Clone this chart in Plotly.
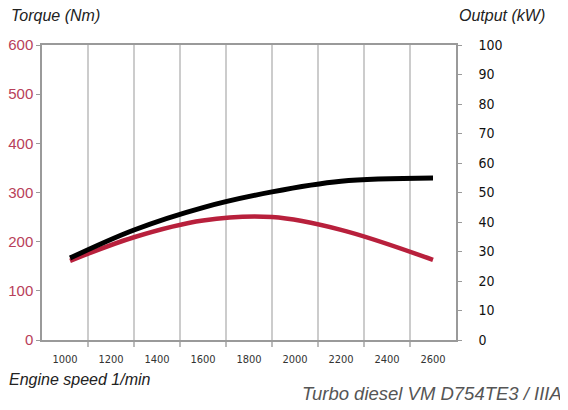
import plotly.graph_objects as go

# ---- data ----
speed = [1022, 1300, 1600, 1900, 2200, 2600]
torque_nm = [161, 209, 243, 250, 224, 163]
output_kw = [27.8, 37.3, 44.9, 50.2, 53.8, 54.9]

x_ticks = [1000, 1200, 1400, 1600, 1800, 2000, 2200, 2400, 2600]
x_grid = [1100, 1300, 1500, 1700, 1900, 2100, 2300, 2500]
left_ticks = [0, 100, 200, 300, 400, 500, 600]
right_ticks = [0, 10, 20, 30, 40, 50, 60, 70, 80, 90, 100]

# page body has an 8px default margin; work in figure coordinates
OFF = 8
W, H = 568 - OFF, 410 - OFF
L, R, T, B = 42 - OFF, 456 - OFF, 45 - OFF, 340 - OFF

RED = "#b8203c"
NARROW = "Liberation Sans Narrow, Arial Narrow, DejaVu Sans Condensed, sans-serif"
SANS = "Liberation Sans, Arial, sans-serif"

fig = go.Figure()
fig.add_trace(go.Scatter(x=speed, y=output_kw, yaxis="y2", mode="lines",
                         line=dict(color="#000000", width=5, shape="spline", smoothing=1),
                         showlegend=False, hoverinfo="skip"))
fig.add_trace(go.Scatter(x=speed, y=torque_nm, mode="lines",
                         line=dict(color=RED, width=4.5, shape="spline", smoothing=1),
                         showlegend=False, hoverinfo="skip"))

def px(xs):
    return (xs - OFF - L) / (R - L)

def py(ys):
    return (B - (ys - OFF)) / (B - T)

fig.update_layout(
    width=W, height=H,
    margin=dict(l=L, r=W - R, t=T, b=H - B, pad=0, autoexpand=False),
    paper_bgcolor="white", plot_bgcolor="white",
    xaxis=dict(range=[900, 2700], tickmode="array", tickvals=x_ticks,
               ticktext=[str(v) for v in x_ticks], automargin=False,
               showgrid=False, zeroline=False,
               showline=True, linecolor="#9a9a9a", linewidth=1.5, mirror=True,
               ticks="outside", ticklen=0, tickcolor="#9a9a9a",
               ticklabelstandoff=8,
               tickfont=dict(family=NARROW, size=11, color="#333333"),
               minor=dict(tickmode="array", tickvals=x_grid, showgrid=True,
                          gridcolor="#cccccc", gridwidth=2,
                          ticks="outside", ticklen=5, tickcolor="#bbbbbb",
                          tickwidth=2)),
    yaxis=dict(range=[0, 600], tickmode="array", tickvals=left_ticks,
               automargin=False,
               showgrid=False, zeroline=False,
               showline=True, linecolor="#9a9a9a", linewidth=1.5,
               ticks="outside", ticklen=4, tickcolor="#9a9a9a",
               tickfont=dict(family=SANS, size=15, color="#b8405a")),
    yaxis2=dict(range=[0, 100], tickmode="array", tickvals=right_ticks,
                overlaying="y", side="right", automargin=False,
                showgrid=False, zeroline=False,
                showline=True, linecolor="#9a9a9a", linewidth=1.5,
                ticks="outside", ticklen=4, tickcolor="#9a9a9a",
                ticklabelstandoff=14,
                tickfont=dict(family=NARROW, size=14, color="#111111")),
    annotations=[
        dict(text="<i>Torque (Nm)</i>", xref="paper", yref="paper",
             x=px(9), y=py(15), xanchor="left", yanchor="middle",
             showarrow=False, font=dict(family=SANS, size=16, color="#222222")),
        dict(text="<i>Output (kW)</i>", xref="paper", yref="paper",
             x=px(547), y=py(15), xanchor="right", yanchor="middle",
             showarrow=False, font=dict(family=SANS, size=16, color="#222222")),
        dict(text="<i>Engine speed 1/min</i>", xref="paper", yref="paper",
             x=px(7), y=py(379), xanchor="left", yanchor="middle",
             showarrow=False, font=dict(family=SANS, size=16, color="#222222")),
        dict(text="<i>Turbo diesel VM D754TE3 / IIIA</i>", xref="paper", yref="paper",
             x=px(564), y=py(393), xanchor="right", yanchor="middle",
             showarrow=False, font=dict(family=SANS, size=18.5, color="#555555")),
    ],
)

fig.write_html("out.html")
